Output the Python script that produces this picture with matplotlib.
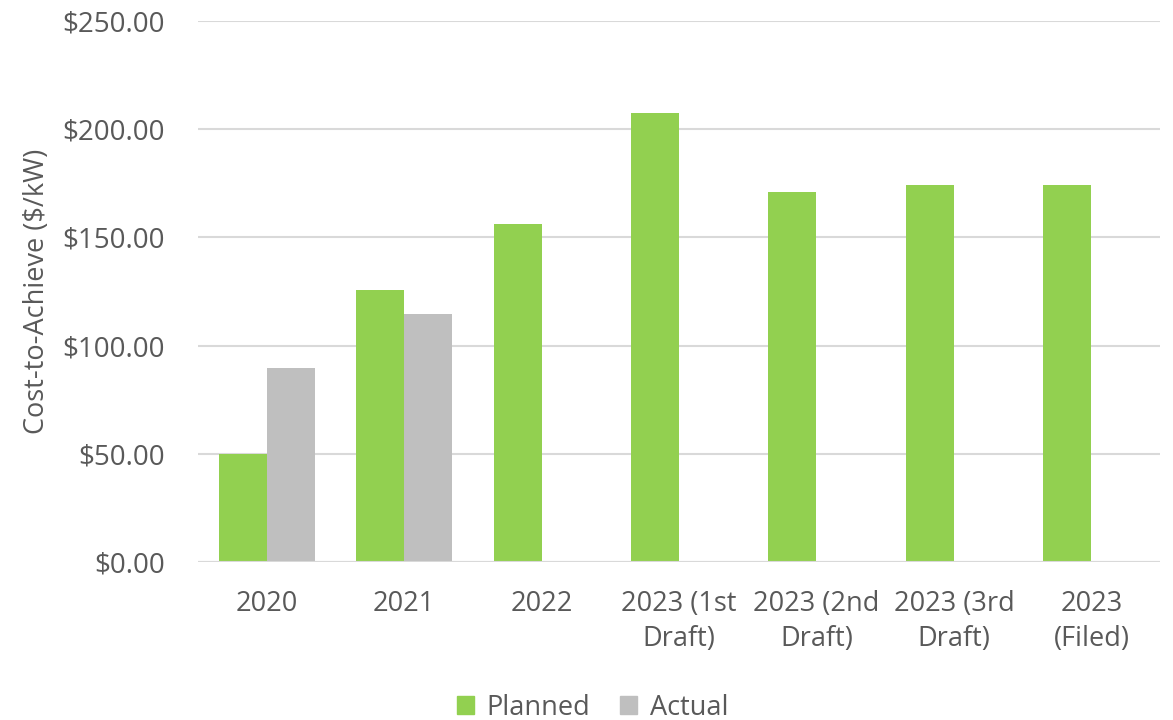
import numpy as np
import matplotlib.pyplot as plt
from matplotlib.patches import Patch

categories = ["2020", "2021", "2022", "2023 (1st\nDraft)", "2023 (2nd\nDraft)",
              "2023 (3rd\nDraft)", "2023\n(Filed)"]
planned = [50.0, 125.5, 156.0, 207.5, 171.0, 174.0, 174.0]
actual = [89.8, 114.5, np.nan, np.nan, np.nan, np.nan, np.nan]

green = "#92D050"
gray = "#BFBFBF"
text_color = "#595959"

plt.rcParams['font.family'] = ['Open Sans', 'DejaVu Sans']

fig = plt.figure(figsize=(11.73, 7.2), dpi=100)
ax = fig.add_axes([0.1688, 0.2194, 0.8202, 0.7514])

x = np.arange(len(categories))
w = 0.35
ax.bar(x - w / 2, planned, w, color=green, zorder=3)
ax.bar(x + w / 2, actual, w, color=gray, zorder=3)

ax.set_xlim(-0.5, len(categories) - 0.5)
ax.set_ylim(0, 250)
ax.set_yticks(np.arange(0, 251, 50))
ax.set_yticklabels([f"${v:.2f}" for v in np.arange(0, 251, 50)])
ax.yaxis.grid(True, color="#D9D9D9", linewidth=1.5, zorder=0)
ax.set_xticks(x)
ax.set_xticklabels(categories, linespacing=1.35)

for s in ax.spines.values():
    s.set_visible(False)
ax.axhline(0, color="#D9D9D9", linewidth=1.5, zorder=4)
ax.tick_params(axis="both", length=0, colors=text_color)
ax.tick_params(axis="y", labelsize=20, pad=24)
ax.tick_params(axis="x", labelsize=19.5, pad=20)
ax.set_ylabel("Cost-to-Achieve ($/kW)", fontsize=19.5, color=text_color, labelpad=8)

handles = [Patch(color=green, label="Planned"), Patch(color=gray, label="Actual")]
fig.legend(handles=handles, loc="lower center", bbox_to_anchor=(0.505, -0.036), ncol=2,
           frameon=False, fontsize=19.5, labelcolor=text_color, handlelength=0.65,
           handleheight=0.65, handletextpad=0.45, columnspacing=1.1)

fig.savefig("out.png", dpi=100)
